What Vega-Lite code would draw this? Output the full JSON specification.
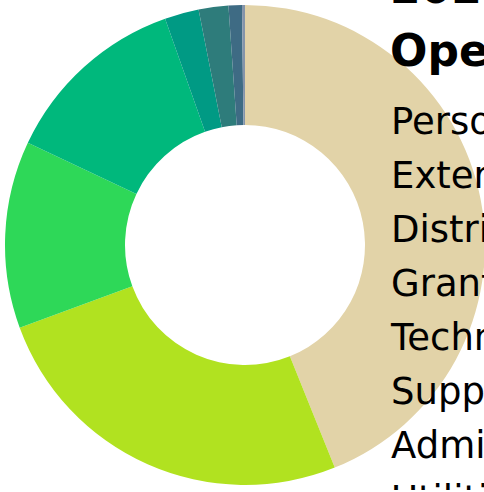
{
  "$schema": "https://vega.github.io/schema/vega-lite/v6.json",
  "width": 490,
  "height": 490,
  "padding": 0,
  "autosize": {"type": "none"},
  "background": "white",
  "config": {"view": {"stroke": null}},
  "data": {"values": [
    {"category": "Personnel", "value": 43.9, "rank": 1},
    {"category": "External Services", "value": 25.5, "rank": 2},
    {"category": "Distribution", "value": 12.6, "rank": 3},
    {"category": "Grants", "value": 12.6, "rank": 4},
    {"category": "Technology", "value": 2.3, "rank": 5},
    {"category": "Supplies", "value": 2.0, "rank": 6},
    {"category": "Administration", "value": 0.9, "rank": 7},
    {"category": "Utilities", "value": 0.2, "rank": 8}
  ]},
  "mark": {"type": "arc", "radius": 240, "innerRadius": 120},
  "encoding": {
    "theta": {"field": "value", "type": "quantitative", "stack": true},
    "order": {"field": "rank", "type": "quantitative", "sort": "ascending"},
    "color": {
      "field": "category",
      "type": "nominal",
      "sort": ["Personnel", "External Services", "Distribution", "Grants", "Technology", "Supplies", "Administration", "Utilities"],
      "scale": {
        "domain": ["Personnel", "External Services", "Distribution", "Grants", "Technology", "Supplies", "Administration", "Utilities"],
        "range": ["#e2d3a8", "#b1e220", "#2ed858", "#00b87c", "#009a84", "#2e7c7b", "#3e6b84", "#8494aa"]
      },
      "legend": {
        "orient": "none",
        "legendX": 390,
        "legendY": -32,
        "padding": 0,
        "title": ["2021 Budget", "Operating Expenses"],
        "titleFont": "DejaVu Sans",
        "titleFontSize": 44,
        "titleFontWeight": "bold",
        "titleColor": "black",
        "titleLineHeight": 63,
        "titlePadding": 29,
        "labelFont": "DejaVu Sans",
        "labelFontSize": 37,
        "labelColor": "black",
        "labelLimit": 0,
        "labelOffset": -36,
        "symbolSize": 0,
        "symbolOpacity": 0,
        "symbolStrokeWidth": 0,
        "rowPadding": 16
      }
    }
  }
}
